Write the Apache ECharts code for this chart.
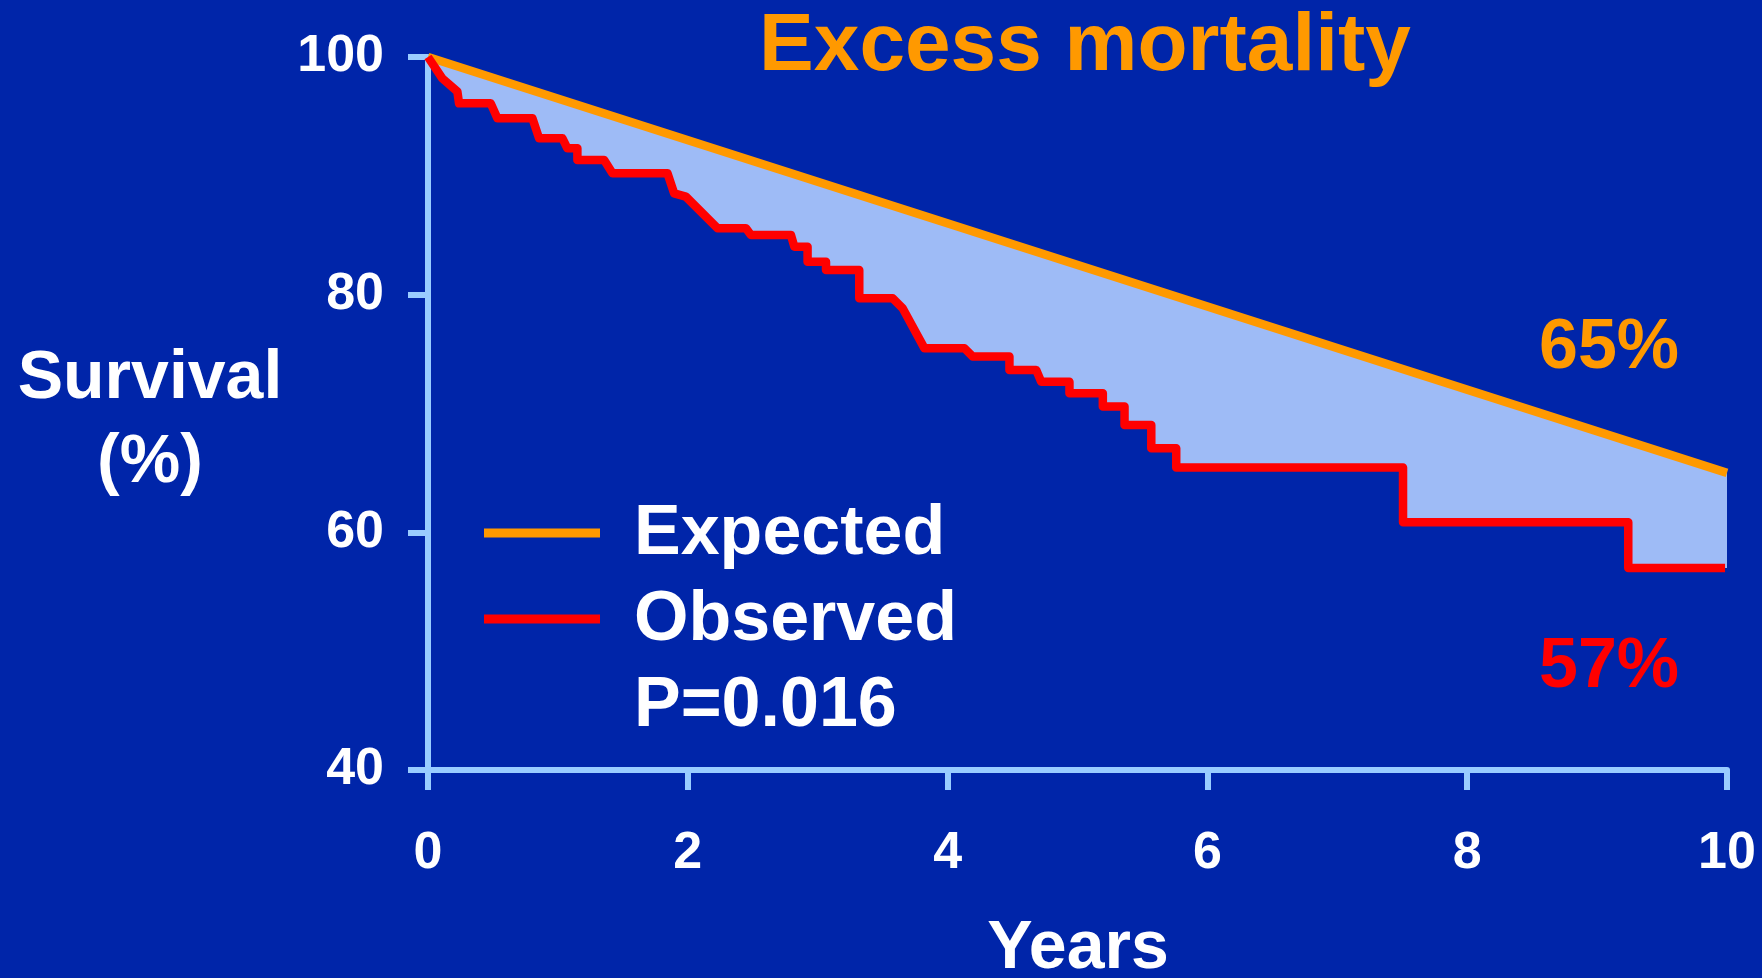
<!DOCTYPE html>
<html>
<head>
<meta charset="utf-8">
<style>
  html, body { margin: 0; padding: 0; background: #0025a9; }
  #chart { width: 1762px; height: 978px; }
</style>
<script src="https://cdn.jsdelivr.net/npm/echarts@6/dist/echarts.min.js"></script>
</head>
<body>
<div id="chart"></div>
<script>
// Expected (population) survival, years vs %
const expectedYears = [0, 10];
const expectedSurvival = [100, 65];

// Observed Kaplan-Meier survival, years vs %
const observedYears = [
  0, 0.11, 0.226, 0.239, 0.483, 0.534, 0.804, 0.855, 1.035, 1.073, 1.15, 1.15,
  1.356, 1.42, 1.844, 1.895, 1.985, 2.229, 2.448, 2.486, 2.794, 2.82, 2.922, 2.922,
  3.064, 3.064, 3.32, 3.32, 3.577, 3.654, 3.821, 4.129, 4.193, 4.476, 4.476, 4.682,
  4.72, 4.938, 4.938, 5.195, 5.195, 5.362, 5.362, 5.568, 5.568, 5.76, 5.76, 7.506,
  7.506, 9.24, 9.24, 9.985
];
const observedSurvival = [
  100, 98.2, 97.1, 96.1, 96.1, 94.84, 94.84, 93.16, 93.16, 92.32, 92.32, 91.33,
  91.33, 90.21, 90.21, 88.53, 88.25, 85.59, 85.59, 85.02, 85.02, 84.04, 84.04, 82.78,
  82.78, 82.08, 82.08, 79.7, 79.7, 78.86, 75.5, 75.5, 74.79, 74.79, 73.67, 73.67,
  72.68, 72.68, 71.7, 71.7, 70.58, 70.58, 69.04, 69.04, 67.08, 67.08, 65.46, 65.46,
  60.85, 60.85, 57, 57
];

// Axis ticks
const xTicks = [0, 2, 4, 6, 8, 10];
const yTicks = [40, 60, 80, 100];

const pValueText = 'P=0.016';

const expectedData = expectedYears.map((x, i) => [x, expectedSurvival[i]]);
const observedData = observedYears.map((x, i) => [x, observedSurvival[i]]);

const FONT = '"Liberation Sans", Arial, Helvetica, sans-serif';
const AXIS_BLUE = '#99ccff';
const ORANGE = '#ff9900';
const RED = '#ff0000';

const chart = echarts.init(document.getElementById('chart'), null, { renderer: 'canvas' });

const lastExpected = expectedSurvival[expectedSurvival.length - 1];
const lastObserved = observedSurvival[observedSurvival.length - 1];
const xMax = xTicks[xTicks.length - 1];

chart.setOption({
  backgroundColor: '#0025a9',
  animation: false,
  grid: { left: 428, right: 35, top: 57, bottom: 208, containLabel: false },
  xAxis: {
    type: 'value',
    min: xTicks[0],
    max: xMax,
    interval: xTicks[1] - xTicks[0],
    axisLine: { show: true, lineStyle: { color: AXIS_BLUE, width: 6, cap: 'round' } },
    axisTick: { show: true, length: 20, lineStyle: { color: AXIS_BLUE, width: 6 } },
    splitLine: { show: false },
    axisLabel: {
      color: '#ffffff', fontFamily: FONT, fontWeight: 'bold', fontSize: 52,
      lineHeight: 52, margin: 58
    }
  },
  yAxis: {
    type: 'value',
    min: yTicks[0],
    max: yTicks[yTicks.length - 1],
    interval: yTicks[1] - yTicks[0],
    axisLine: { show: true, lineStyle: { color: AXIS_BLUE, width: 6, cap: 'round' } },
    axisTick: { show: true, length: 20, lineStyle: { color: AXIS_BLUE, width: 6 } },
    splitLine: { show: false },
    axisLabel: {
      color: '#ffffff', fontFamily: FONT, fontWeight: 'bold', fontSize: 52, margin: 44
    }
  },
  series: [
    {
      // shaded gap between expected and observed curves
      type: 'custom',
      name: 'Excess',
      silent: true,
      z: 1,
      clip: true,
      data: [[0, 100]],
      renderItem: function (params, api) {
        if (params.dataIndex !== 0) return;
        const pts = [];
        expectedData.forEach(p => pts.push(api.coord(p)));
        pts.push(api.coord([xMax, lastObserved]));
        for (let i = observedData.length - 1; i >= 0; i--) pts.push(api.coord(observedData[i]));
        return {
          type: 'polygon',
          shape: { points: pts },
          style: { fill: '#9ebbf6', stroke: null }
        };
      }
    },
    {
      type: 'line',
      name: 'Expected',
      z: 2,
      data: expectedData,
      showSymbol: false,
      lineStyle: { color: ORANGE, width: 8.5, cap: 'butt' }
    },
    {
      type: 'line',
      name: 'Observed',
      z: 3,
      data: observedData,
      showSymbol: false,
      lineStyle: { color: RED, width: 8.5, join: 'round', cap: 'butt' }
    }
  ],
  graphic: [
    {
      type: 'text', x: 1085, y: 47,
      style: { text: 'Excess mortality', fill: ORANGE, font: 'bold 82px ' + FONT, align: 'center', verticalAlign: 'middle' }
    },
    {
      type: 'text', x: 150, y: 379,
      style: { text: 'Survival', fill: '#ffffff', font: 'bold 68px ' + FONT, align: 'center', verticalAlign: 'middle' }
    },
    {
      type: 'text', x: 150, y: 463,
      style: { text: '(%)', fill: '#ffffff', font: 'bold 68px ' + FONT, align: 'center', verticalAlign: 'middle' }
    },
    {
      type: 'text', x: 1078, y: 949,
      style: { text: 'Years', fill: '#ffffff', font: 'bold 68px ' + FONT, align: 'center', verticalAlign: 'middle' }
    },
    // legend
    {
      type: 'line', shape: { x1: 484, y1: 533, x2: 600, y2: 533 },
      style: { stroke: ORANGE, lineWidth: 9 }
    },
    {
      type: 'line', shape: { x1: 484, y1: 619, x2: 600, y2: 619 },
      style: { stroke: RED, lineWidth: 9 }
    },
    {
      type: 'text', x: 634, y: 535,
      style: { text: 'Expected', fill: '#ffffff', font: 'bold 70px ' + FONT, align: 'left', verticalAlign: 'middle' }
    },
    {
      type: 'text', x: 634, y: 621,
      style: { text: 'Observed', fill: '#ffffff', font: 'bold 70px ' + FONT, align: 'left', verticalAlign: 'middle' }
    },
    {
      type: 'text', x: 634, y: 707,
      style: { text: pValueText, fill: '#ffffff', font: 'bold 70px ' + FONT, align: 'left', verticalAlign: 'middle' }
    },
    // end-of-follow-up values
    {
      type: 'text', x: 1539, y: 349,
      style: { text: lastExpected + '%', fill: ORANGE, font: 'bold 70px ' + FONT, align: 'left', verticalAlign: 'middle' }
    },
    {
      type: 'text', x: 1539, y: 668,
      style: { text: lastObserved + '%', fill: RED, font: 'bold 70px ' + FONT, align: 'left', verticalAlign: 'middle' }
    }
  ]
});
</script>
</body>
</html>
